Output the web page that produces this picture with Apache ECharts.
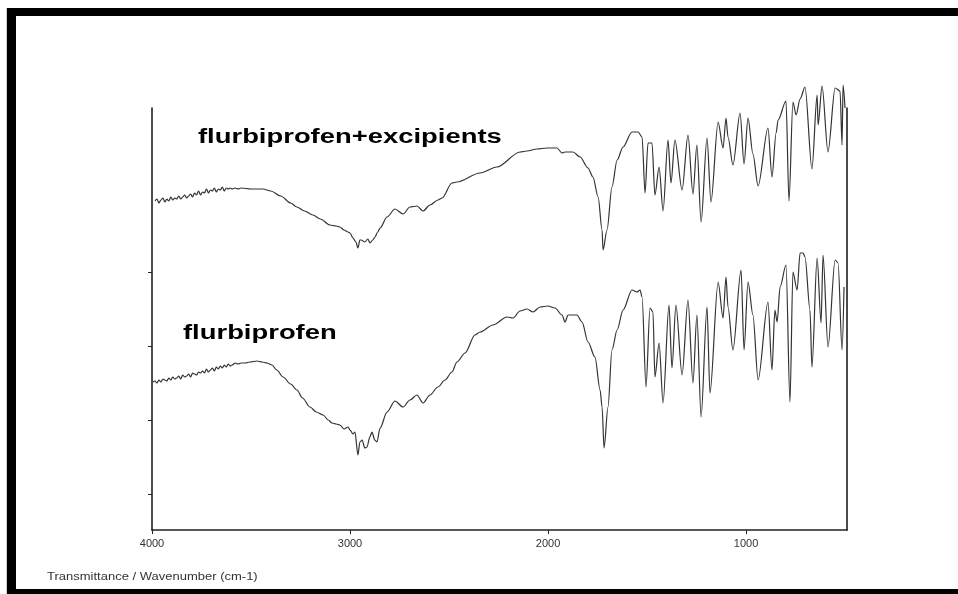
<!DOCTYPE html>
<html>
<head>
<meta charset="utf-8">
<script src="https://cdn.jsdelivr.net/npm/echarts@6/dist/echarts.min.js"></script>
<style>
html,body{margin:0;padding:0;background:#fff;}
#chart{width:958px;height:594px;}
</style>
</head>
<body>
<div id="chart"></div>
<script>
// Wavenumber ticks (cm-1)
var xTicks = [1000, 2000, 3000, 4000];
// Transmittance tick positions (arbitrary units)
var yTicks = [36, 110, 184, 258];

// flurbiprofen + excipients (upper trace), transmittance in arbitrary units
var wnMix = [3985,3975,3965,3955,3945,3935,3925,3915,3905,3895,3885,3875,3865,3855,3845,3835,3825,3815,3805,3795,3785,3775,3765,3755,3745,3735,3725,3715,3705,3695,3685,3675,3665,3655,3645,3635,3625,3615,3605,3595,3580,3565,3550,3500,3440,3400,3350,3300,3268,3230,3187,3150,3101,3070,3051,3030,3010,3000,2985,2970,2960,2950,2944,2925,2910,2899,2885,2874,2860,2848,2813,2773,2732,2697,2662,2631,2596,2556,2535,2485,2460,2343,2258,2141,2106,2056,2005,1955,1929,1914,1874,1838,1798,1773,1747,1727,1722,1702,1677,1651,1621,1576,1545,1525,1510,1495,1475,1460,1439,1419,1394,1379,1359,1323,1293,1268,1248,1227,1197,1177,1141,1116,1101,1091,1066,1030,1010,990,965,939,889,869,848,838,798,783,763,747,727,702,667,641,636,616,586,550,525,515,510,500];
var tMix = [329,331,327,330,332,328,331,329,333,330,332,331,334,331,333,335,332,334,336,333,337,335,339,335,338,337,341,337,340,339,342,338,341,340,343,339,342,341,342,341,342,341,342,341,341,339,334,327,323,319,315,311,305,304,303,300,298,297,292,288,282,290,290,288,291,287,290,293,298,302,313,321,316,323,324,319,325,330,332,347,348,357,363,378,379,381,382,382,377,378,378,373,362,353,333,300,280,300,343,370,383,398,398,393,337,387,387,335,363,319,390,347,390,340,395,336,385,308,392,328,408,382,412,393,365,417,366,412,376,344,402,353,397,410,429,329,428,415,431,443,361,435,405,444,378,442,439,385,445,422];

// flurbiprofen (lower trace)
var wnPure = [3995,3985,3975,3965,3955,3945,3935,3925,3915,3905,3895,3885,3875,3865,3855,3845,3835,3825,3815,3805,3795,3785,3775,3765,3755,3745,3735,3725,3715,3705,3695,3685,3675,3665,3655,3645,3635,3625,3615,3605,3595,3580,3565,3550,3530,3505,3470,3444,3420,3394,3370,3338,3300,3268,3240,3202,3170,3136,3110,3091,3070,3051,3030,3010,3000,2985,2975,2960,2950,2939,2925,2914,2900,2889,2875,2864,2848,2813,2773,2732,2697,2662,2631,2596,2556,2520,2485,2460,2419,2369,2343,2278,2207,2177,2141,2106,2076,2040,2000,1965,1929,1914,1899,1854,1828,1798,1763,1737,1727,1717,1697,1677,1651,1621,1576,1550,1535,1525,1505,1485,1470,1460,1439,1419,1389,1374,1354,1323,1293,1268,1248,1227,1197,1182,1141,1116,1101,1091,1066,1025,1010,990,965,939,889,869,854,843,828,798,778,763,742,727,712,702,677,667,641,621,611,586,550,535,515,505];
var tPure = [148,149,147,150,148,151,150,149,152,150,153,151,152,154,151,155,153,154,156,153,157,156,155,158,157,159,157,161,158,160,162,159,163,161,164,162,165,163,166,164,165,167,166,167,167,168,169,168,167,165,160,153,146,140,132,123,118,115,110,107,106,105,101,103,100,96,98,75,88,90,82,83,93,98,90,88,102,118,129,123,130,135,127,135,143,150,158,168,177,195,198,205,213,212,219,221,218,223,224,222,215,208,215,215,208,188,173,140,123,82,123,180,200,220,240,238,240,233,143,222,218,153,187,127,225,162,225,155,230,147,215,113,223,137,248,212,253,223,180,260,180,248,215,150,228,160,220,208,243,265,128,258,240,277,277,273,220,163,272,207,275,183,270,267,180,243];

var labelMix = 'flurbiprofen+excipients';
var labelPure = 'flurbiprofen';
var caption = 'Transmittance / Wavenumber (cm-1)';

function pairs(xs, ys) {
  var out = [];
  for (var i = 0; i < xs.length; i++) out.push([xs[i], ys[i]]);
  return out;
}

var chart = echarts.init(document.getElementById('chart'), null, {renderer: 'canvas'});
var FONT = '"Liberation Sans", Arial, sans-serif';
var lineStyle = {color: '#333', width: 1.2};

chart.setOption({
  animation: false,
  backgroundColor: '#ffffff',
  grid: {left: 152, right: 111, top: 108, bottom: 64, containLabel: false},
  xAxis: {
    type: 'value', min: 490, max: 4000, inverse: true,
    axisLine: {show: true, onZero: false, lineStyle: {color: '#222', width: 1.5}},
    axisTick: {show: true, length: 4, customValues: xTicks, lineStyle: {color: '#222'}},
    axisLabel: {customValues: xTicks, margin: 8, fontSize: 11, color: '#333', fontFamily: FONT,
      showMinLabel: true, showMaxLabel: true, formatter: function (v) { return String(v); }},
    splitLine: {show: false}
  },
  yAxis: [{
    type: 'value', min: 0, max: 422, position: 'left',
    axisLine: {show: true, lineStyle: {color: '#111', width: 1.5}},
    axisTick: {show: true, length: 4, customValues: yTicks, lineStyle: {color: '#222'}},
    axisLabel: {show: false},
    splitLine: {show: false}
  }, {
    type: 'value', min: 0, max: 422, position: 'right',
    axisLine: {show: true, lineStyle: {color: '#111', width: 1.5}},
    axisTick: {show: false}, axisLabel: {show: false}, splitLine: {show: false}
  }],
  series: [{
    type: 'line', name: labelMix, data: pairs(wnMix, tMix),
    showSymbol: false, clip: false, smooth: 0.3, smoothMonotone: 'x', lineStyle: lineStyle, silent: true
  }, {
    type: 'line', name: labelPure, data: pairs(wnPure, tPure),
    showSymbol: false, clip: false, smooth: 0.3, smoothMonotone: 'x', lineStyle: lineStyle, silent: true
  }],
  graphic: [
    {type: 'rect', shape: {x: 6, y: 8, width: 1, height: 586}, style: {fill: '#cfcfcf'}},
    {type: 'rect', shape: {x: 7, y: 8, width: 951, height: 8}, style: {fill: '#000'}},
    {type: 'rect', shape: {x: 7, y: 8, width: 9, height: 586}, style: {fill: '#000'}},
    {type: 'rect', shape: {x: 7, y: 589, width: 951, height: 5}, style: {fill: '#000'}},
    {type: 'text', x: 198, y: 137, scaleX: 1.37,
      style: {text: labelMix, font: 'bold 20px ' + FONT, fill: '#000', align: 'left', verticalAlign: 'middle'}},
    {type: 'text', x: 183, y: 333, scaleX: 1.37,
      style: {text: labelPure, font: 'bold 20px ' + FONT, fill: '#000', align: 'left', verticalAlign: 'middle'}},
    {type: 'text', x: 47, y: 577, scaleX: 1.3,
      style: {text: caption, font: '10px ' + FONT, fill: '#333', align: 'left', verticalAlign: 'middle'}}
  ]
});
</script>
</body>
</html>
